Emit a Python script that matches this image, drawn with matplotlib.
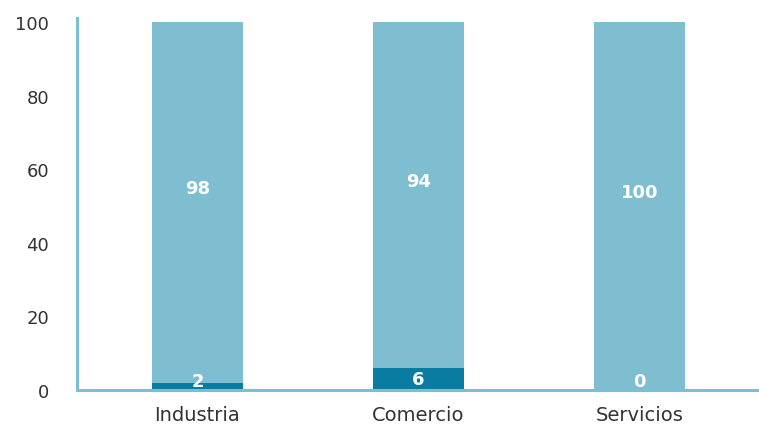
import matplotlib
matplotlib.use("Agg")
import matplotlib.pyplot as plt
import numpy as np

categories = ["Industria", "Comercio", "Servicios"]
bottom_vals = [2, 6, 0]
top_vals = [98, 94, 100]
yticks = [0, 20, 40, 60, 80, 100]

dark = "#0a7ca2"
light = "#7fbdd1"
spine_col = "#7cbfd5"

fig = plt.figure(figsize=(7.59, 4.27), dpi=100)
ax = fig.add_axes([77 / 759, 36 / 427, 1 - 77 / 759, (391 - 19.3) / 427])

x = np.arange(len(categories))
w = 0.41
ax.bar(x, bottom_vals, width=w, color=dark, zorder=2)
ax.bar(x, top_vals, width=w, bottom=bottom_vals, color=light, zorder=2,
       clip_on=False)

for xi, bv, tv in zip(x, bottom_vals, top_vals):
    ax.annotate(f"{bv}", (xi, max(bv / 2, 2.5)), xytext=(0, 0), textcoords="offset points",
                ha="center", va="center", color="white", fontsize=13, fontweight="bold")
    ax.annotate(f"{tv}", (xi, bv + tv / 2), xytext=(0, 10), textcoords="offset points",
                ha="center", va="center", color="white", fontsize=13, fontweight="bold")

ax.set_xlim(-0.545, 2.54)
ax.set_ylim(0, 101)
ax.set_yticks(yticks)
ax.set_xticks(x)
ax.set_xticklabels(categories)
ax.tick_params(axis="both", length=0, labelsize=13, colors="#333333")
ax.tick_params(axis="x", labelsize=14, pad=11)
ax.tick_params(axis="y", pad=20)

for s in ["top", "right"]:
    ax.spines[s].set_visible(False)
for s in ["left", "bottom"]:
    ax.spines[s].set_color(spine_col)
    ax.spines[s].set_linewidth(2.2)

fig.savefig("out.png", dpi=100)
